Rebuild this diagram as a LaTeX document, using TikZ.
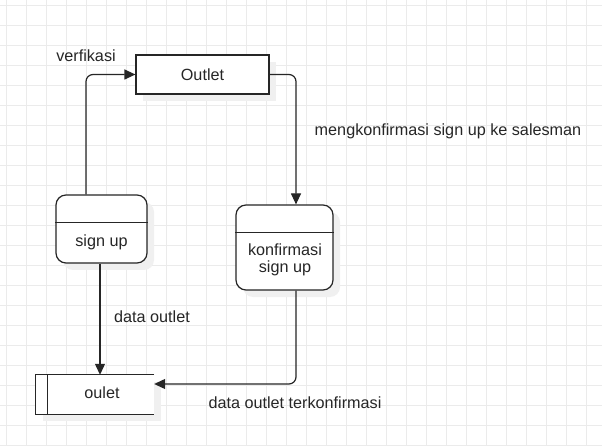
\documentclass[tikz,border=0pt]{standalone}
\usepackage{fontspec}
\setmainfont{Liberation Sans}
\usetikzlibrary{arrows.meta,shadows}

\begin{document}
\begin{tikzpicture}[x=1pt,y=-1pt,
    gridline/.style={draw=black!8,line width=0.8pt},
    ink/.style={draw=black!85,line width=1.2pt},
    flow/.style={ink,-{Triangle[length=11pt,width=10pt]},rounded corners=7pt},
    shade/.style={drop shadow={shadow xshift=7pt,shadow yshift=-7pt,fill=black!6,opacity=1}},
    txt/.style={font=\fontsize{16.2}{17.5}\selectfont,text=black!85},
    entity/.style={ink,fill=white,minimum width=133pt,minimum height=39pt,shade},
    proc/.style={ink,fill=white,rounded corners=10pt,shade}]
    \useasboundingbox (0,0) rectangle (602,446);
    \fill[white] (0,0) rectangle (602,446);
    \foreach \gx in {6.5,26.5,...,586.5} \draw[gridline] (\gx,0) -- (\gx,446);
    \foreach \gy in {5,25,...,445} \draw[gridline] (0,\gy) -- (602,\gy);

    \node[entity,txt] (outlet) at (202.5,74.5) {Outlet};

    \node[proc,minimum width=91pt,minimum height=68pt] (signup) at (101.5,229) {};
    \draw[ink] ([yshift=-28pt]signup.north west) -- ([yshift=-28pt]signup.north east);
    \node[txt] (signuptxt) at (101.5,242) {sign up};

    \node[proc,minimum width=97pt,minimum height=85pt] (konf) at (284.5,247.5) {};
    \draw[ink] ([yshift=-28pt]konf.north west) -- ([yshift=-28pt]konf.north east);
    \node[txt,align=center] (konftxt) at (285,260) {konfirmasi\\sign up};

    \node[minimum width=118pt,minimum height=39pt] (oulet) at (95,394.5) {};
    \fill[black!6] ([xshift=7pt,yshift=-7pt]oulet.north west) rectangle ([xshift=7pt,yshift=-7pt]oulet.south east);
    \fill[white] (oulet.north west) rectangle (oulet.south east);
    \draw[ink] (oulet.north east) -- (oulet.north west) -- (oulet.south west) -- (oulet.south east);
    \draw[ink] ([xshift=12pt]oulet.north west) -- ([xshift=12pt]oulet.south west);
    \node[txt] (ouletxt) at (102,393) {oulet};

    \draw[flow] ([xshift=-15.5pt]signup.north) |- (outlet.west);
    \draw[flow] (outlet.east) -| ([xshift=11.5pt]konf.north);
    \draw[flow] ([xshift=-1.5pt]signup.south) -- ([xshift=5pt]oulet.north);
    \draw[flow] ([xshift=11.5pt]konf.south) |- ([yshift=10.5pt]oulet.east);

    \node[txt] (verif) at (86,56) {verfikasi};
    \node[txt] (confirm) at (448,131) {mengkonfirmasi sign up ke salesman};
    \node[txt] (dataout) at (152,317) {data outlet};
    \node[txt] (dataterk) at (295,403) {data outlet terkonfirmasi};
\end{tikzpicture}
\end{document}
